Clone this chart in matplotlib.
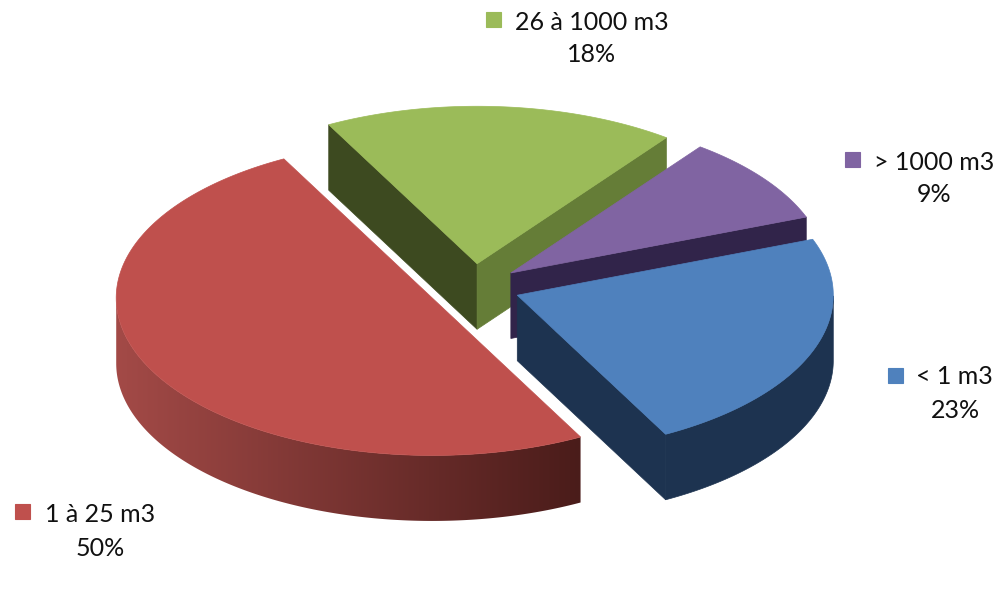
#3D exploded pie chart, drawn by hand since matplotlib has no 3D pie
import numpy as np
import matplotlib
matplotlib.use('Agg')
import matplotlib.pyplot as plt
from matplotlib.colors import LinearSegmentedColormap
from matplotlib.patches import Polygon, Rectangle

#Data, clockwise from the start angle
labels = ['26 à 1000 m3', '> 1000 m3', '< 1 m3', '1 à 25 m3']
values = [18, 9, 23, 50]
top_colors = ['#9BBB59', '#8064A2', '#4F81BD', '#BF504D']
side_colors = ['#3D4A20', '#31244A', '#1D3350', '#A34A47']
inner_colors = ['#657D37', '#31244A', '#1D3350', '#4A1C1A']

#Layout in pixels
center_x, center_y = 473.5, 287
radius_x, radius_y = 316, 157.5
explode = 0.148
depth = 65.5
start_angle = 118

#Legend squares and text positions
legend_box = [(486, 12), (845, 152), (888, 368), (15, 504)]
label_pos = [(592, 22), (934, 162), (954, 376), (100, 514)]
percent_pos = [(592, 55), (934, 195), (955, 411), (100, 548)]

plt.rcParams['font.family'] = ['Lato', 'DejaVu Sans']

fig = plt.figure(figsize=(10, 6.04), dpi=100)
ax = fig.add_axes([0, 0, 1, 1])
ax.set_xlim(0, 1000)
ax.set_ylim(604, 0)
ax.axis('off')


def point(cx, cy, t):
    return cx + radius_x * np.cos(t), cy - radius_y * np.sin(t)


def wall(p, q, color, z):
    ax.add_patch(Polygon([p, q, (q[0], q[1] + depth), (p[0], p[1] + depth)],
                         closed=True, fc=color, ec=color, lw=0.5, zorder=z))


angle = start_angle
for i in range(len(values)):
    sweep = values[i] * 3.6
    t1 = np.radians(angle)
    t2 = np.radians(angle - sweep)
    mid = (t1 + t2) / 2
    angle -= sweep
    cx = center_x + explode * radius_x * np.cos(mid)
    cy = center_y - explode * radius_y * np.sin(mid)
    z = i * 10
    apex = (cx, cy)

    #Flat walls of the cut, only those facing the viewer
    if i == 0:
        wall(apex, point(cx, cy, t1), side_colors[i], z)
        wall(apex, point(cx, cy, t2), inner_colors[i], z + 1)
    elif i == 1 or i == 2:
        wall(apex, point(cx, cy, t2), inner_colors[i], z)

    #Rim, the part of the arc at the front
    ts = np.linspace(t1, t2, 300)
    front = ts[np.sin(ts) <= 0]
    if len(front) > 1:
        fx, fy = point(cx, cy, front)
        rim = list(zip(fx, fy)) + list(zip(fx[::-1], fy[::-1] + depth))
        if i == 3:
            #Red rim gets darker from left to right
            cmap = LinearSegmentedColormap.from_list('rim', [side_colors[i], inner_colors[i]])
            clip = Polygon(rim, closed=True, transform=ax.transData, fc='none', ec='none')
            ax.add_patch(clip)
            img = ax.imshow(np.linspace(0, 1, 256).reshape(1, -1), cmap=cmap, aspect='auto',
                            extent=(fx.min(), fx.max(), fy.max() + depth, fy.min()),
                            zorder=z + 2)
            img.set_clip_path(clip)
        else:
            ax.add_patch(Polygon(rim, closed=True, fc=side_colors[i], ec=side_colors[i],
                                 lw=0.5, zorder=z + 2))

    #Top face
    xs, ys = point(cx, cy, ts)
    top = [apex] + list(zip(xs, ys))
    ax.add_patch(Polygon(top, closed=True, fc=top_colors[i], ec=top_colors[i], lw=0.5, zorder=z + 3))

ax.set_xlim(0, 1000)
ax.set_ylim(604, 0)

#Legend labels
for i in range(len(labels)):
    x, y = legend_box[i]
    ax.add_patch(Rectangle((x, y), 15, 15, fc=top_colors[i], ec=top_colors[i], lw=0.8, zorder=60))
    ax.text(label_pos[i][0], label_pos[i][1], labels[i], fontsize=18, color='#111111',
            ha='center', va='center', zorder=61)
    ax.text(percent_pos[i][0], percent_pos[i][1], str(values[i]) + '%', fontsize=18, color='#111111',
            ha='center', va='center', zorder=61)

fig.savefig('out.png', dpi=100, facecolor='white')
